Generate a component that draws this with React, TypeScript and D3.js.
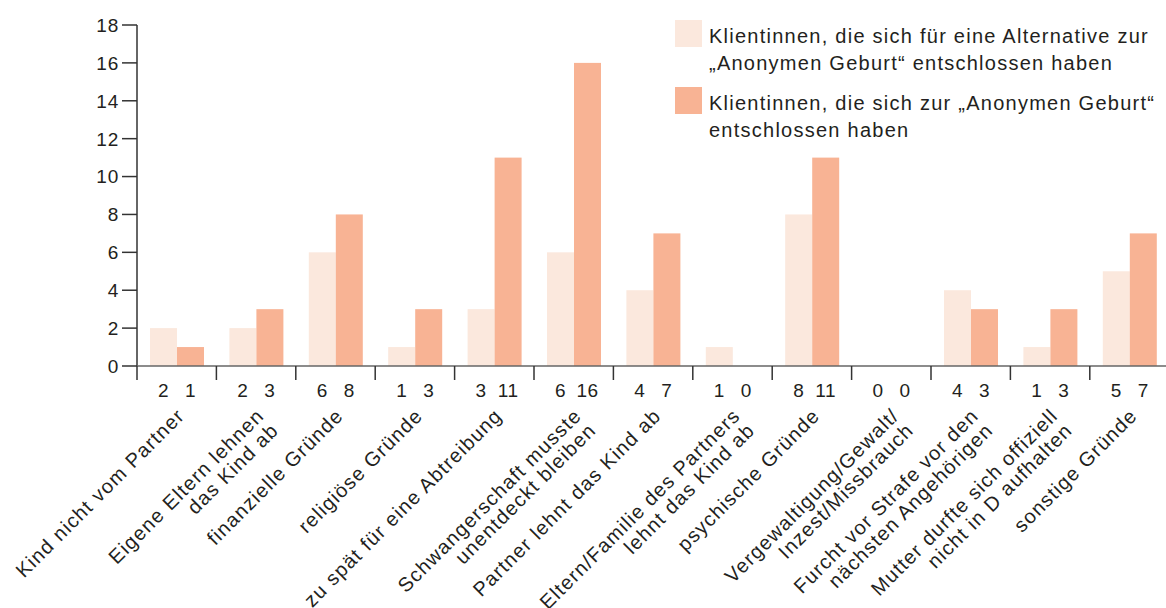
import React from "react";
import * as d3 from "d3";

const categories: string[] = [
  "Kind nicht vom Partner",
  "Eigene Eltern lehnen\ndas Kind ab",
  "finanzielle Gründe",
  "religiöse Gründe",
  "zu spät für eine Abtreibung",
  "Schwangerschaft musste\nunentdeckt bleiben",
  "Partner lehnt das Kind ab",
  "Eltern/Familie des Partners\nlehnt das Kind ab",
  "psychische Gründe",
  "Vergewaltigung/Gewalt/\nInzest/Missbrauch",
  "Furcht vor Strafe vor den\nnächsten Angehörigen",
  "Mutter durfte sich offiziell\nnicht in D aufhalten",
  "sonstige Gründe",
];
const alternativeValues: number[] = [2, 2, 6, 1, 3, 6, 4, 1, 8, 0, 4, 1, 5];
const anonymValues: number[] = [1, 3, 8, 3, 11, 16, 7, 0, 11, 0, 3, 3, 7];
const yTicks: number[] = [0, 2, 4, 6, 8, 10, 12, 14, 16, 18];
const legendLabels: string[][] = [
  ["Klientinnen, die sich für eine Alternative zur", "„Anonymen Geburt“ entschlossen haben"],
  ["Klientinnen, die sich zur „Anonymen Geburt“", "entschlossen haben"],
];

const COLORS = ["#FBE8DD", "#F8B394"];
const FONT = "'Liberation Sans', Arial, Helvetica, sans-serif";
const TEXT = "#231f20";

export default function App() {
  const W = 1166;
  const H = 608;
  const left = 137;
  const bottom = 366;
  const top = 25;
  const bandW = 79.4;

  const x = d3
    .scaleBand<string>()
    .domain(categories)
    .range([left, left + bandW * categories.length])
    .padding(0);
  const y = d3.scaleLinear().domain([0, 18]).range([bottom, top]);

  const barOffset = 13;
  const barW = 27;
  const series = [alternativeValues, anonymValues];

  return (
    <svg
      width={W}
      height={H}
      style={{ position: "absolute", left: 0, top: 0, background: "#fff" }}
      fontFamily={FONT}
    >
      {/* bars */}
      {categories.map((c, i) => (
        <g key={c}>
          {series.map((vals, s) => (
            <rect
              key={s}
              x={(x(c) as number) + barOffset + s * barW}
              y={y(vals[i])}
              width={barW}
              height={bottom - y(vals[i])}
              fill={COLORS[s]}
            />
          ))}
        </g>
      ))}

      {/* y axis */}
      <line x1={left} x2={left} y1={top} y2={bottom} stroke="#333" strokeWidth={1.5} />
      {yTicks.map((t) => (
        <g key={t}>
          <line x1={left - 15} x2={left} y1={y(t)} y2={y(t)} stroke="#333" strokeWidth={1.5} />
          <text
            x={left - 18}
            y={y(t)}
            dy="0.36em"
            textAnchor="end"
            fontSize={19}
            letterSpacing={0.8}
            fill={TEXT}
          >
            {t}
          </text>
        </g>
      ))}

      {/* x axis */}
      <line x1={left} x2={W} y1={bottom} y2={bottom} stroke="#666" strokeWidth={1.5} />
      {categories.map((c) => (
        <line
          key={"t" + c}
          x1={x(c) as number}
          x2={x(c) as number}
          y1={bottom}
          y2={bottom + 14}
          stroke="#333"
          strokeWidth={1.5}
        />
      ))}

      {/* value labels */}
      {categories.map((c, i) =>
        series.map((vals, s) => (
          <text
            key={"v" + i + "_" + s}
            x={(x(c) as number) + barOffset + s * barW + barW / 2}
            y={397}
            textAnchor="middle"
            fontSize={19}
            letterSpacing={0.5}
            fill={TEXT}
          >
            {vals[i]}
          </text>
        ))
      )}

      {/* category labels */}
      {categories.map((c) => {
        const cx = (x(c) as number) + bandW / 2;
        const lines = c.split("\n");
        return (
          <text
            key={"c" + c}
            transform={`translate(${cx + 9},${417}) rotate(-45)`}
            textAnchor="end"
            fontSize={20}
            letterSpacing={1.2}
            fill={TEXT}
          >
            {lines.map((l, k) => (
              <tspan key={k} x={0} dy={k === 0 ? 0 : 20.5}>
                {l}
              </tspan>
            ))}
          </text>
        );
      })}

      {/* legend */}
      {legendLabels.map((lines, s) => (
        <g key={"l" + s} transform={`translate(675,${20 + s * 67})`}>
          <rect x={0} y={0} width={27} height={27} fill={COLORS[s]} />
          <text x={34} y={22.5} fontSize={20} letterSpacing={1.25} fill={TEXT}>
            {lines.map((l, k) => (
              <tspan key={k} x={34} dy={k === 0 ? 0 : 27}>
                {l}
              </tspan>
            ))}
          </text>
        </g>
      ))}
    </svg>
  );
}
